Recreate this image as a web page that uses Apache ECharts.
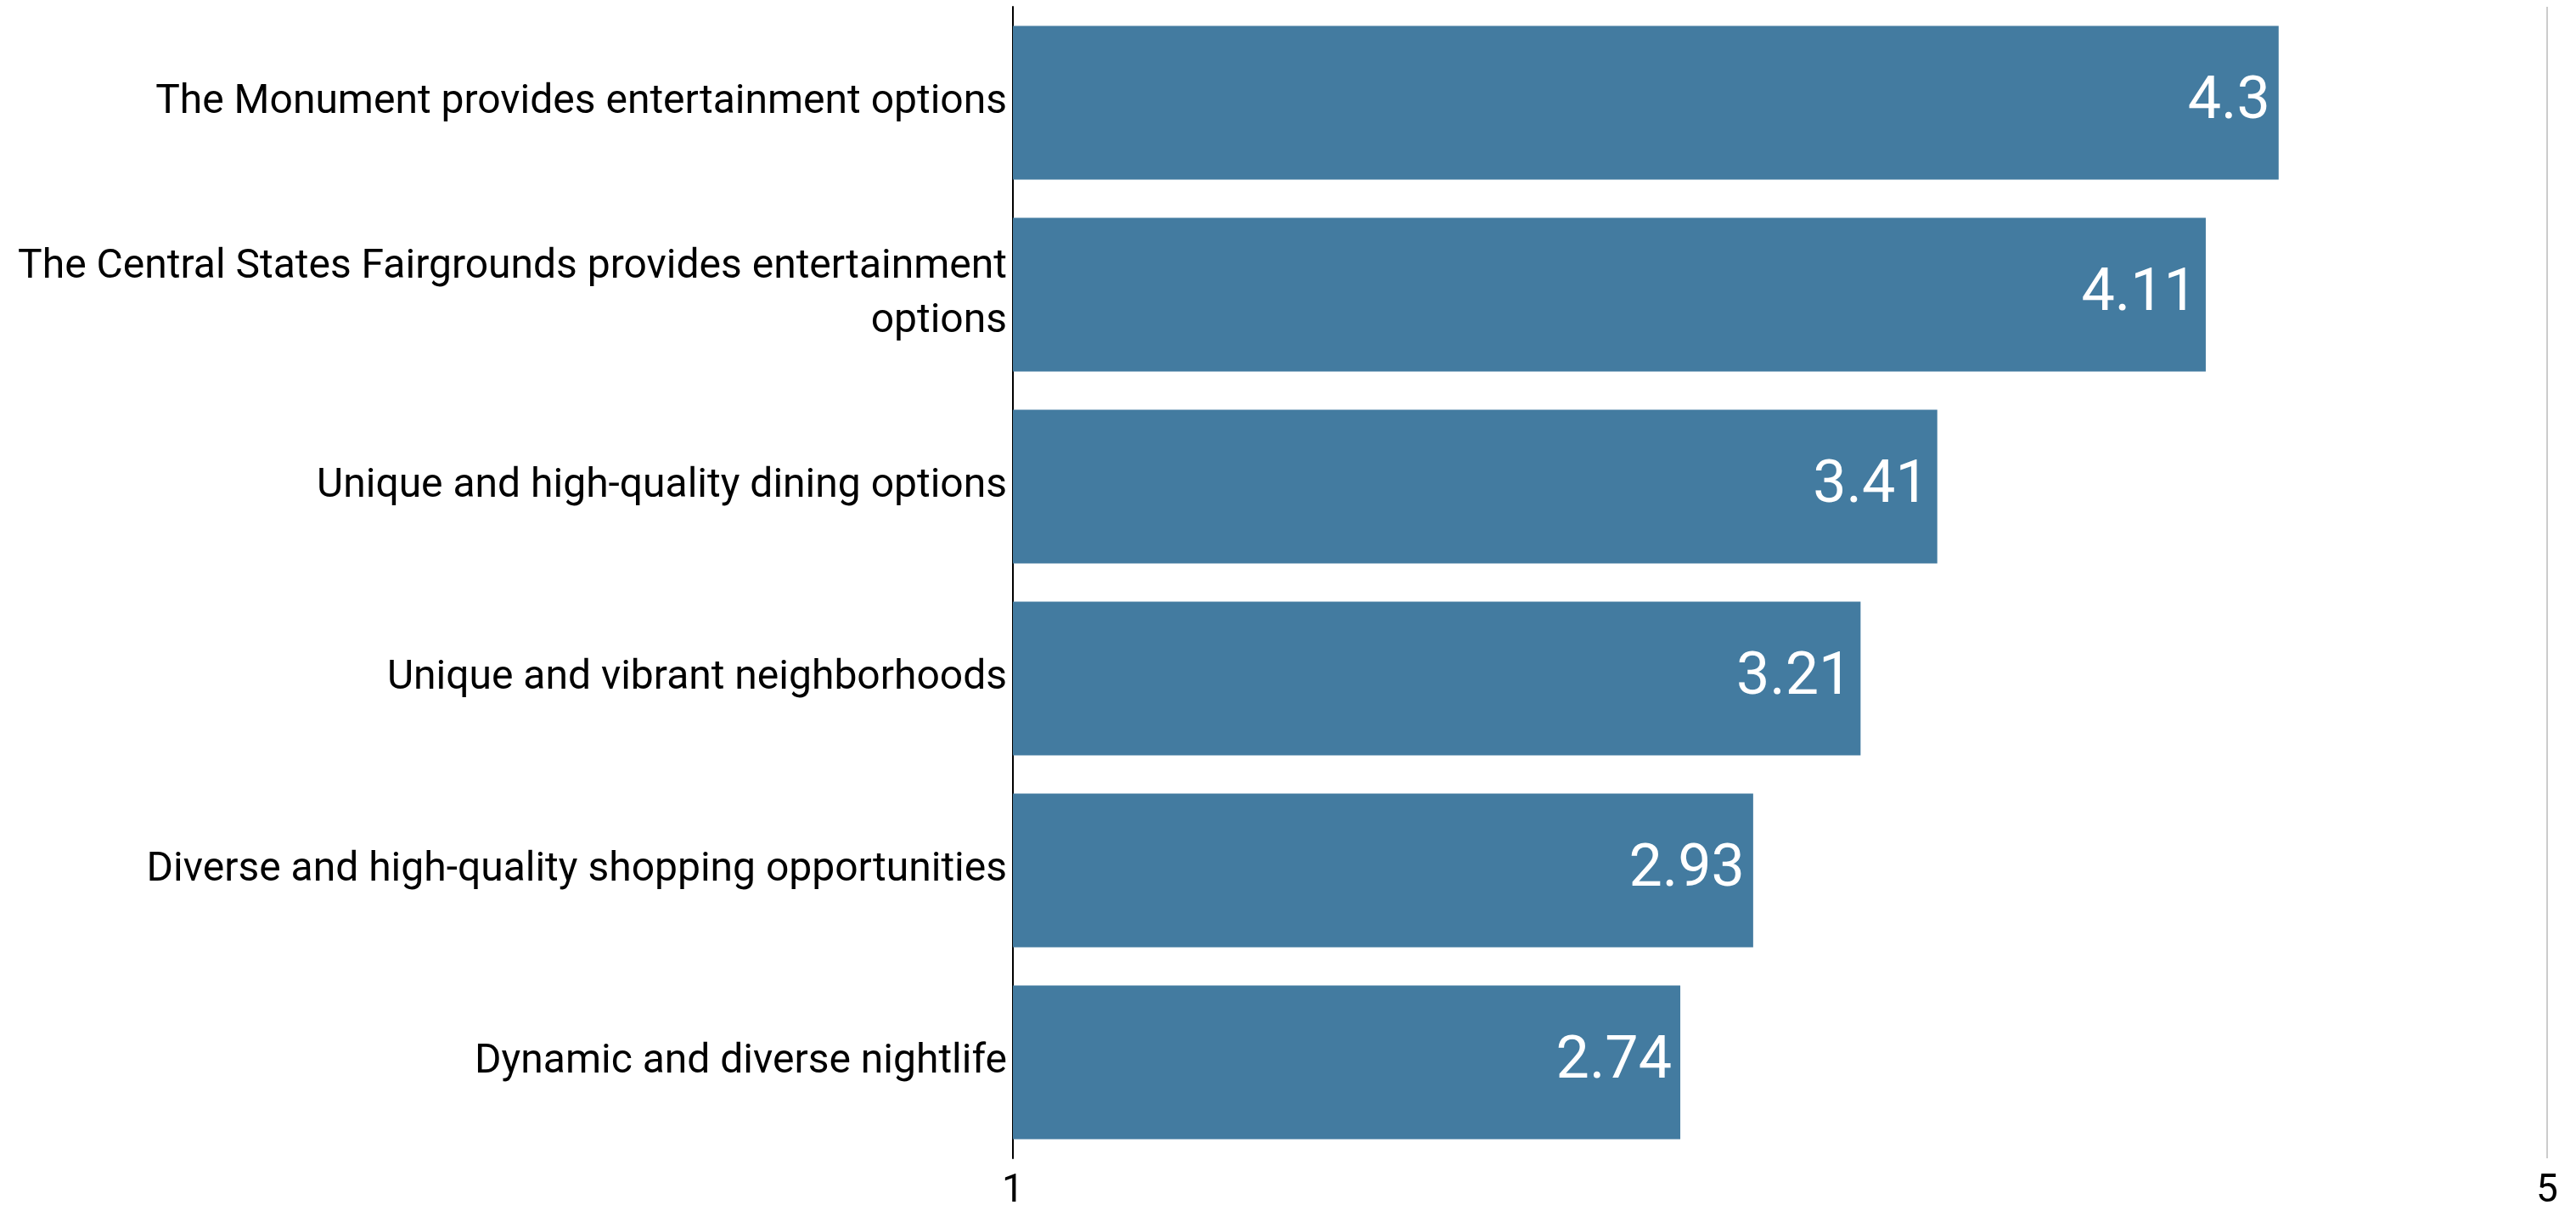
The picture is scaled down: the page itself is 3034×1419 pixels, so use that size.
<!DOCTYPE html>
<html>
<head>
<meta charset="utf-8">
<title>Entertainment and amenities ratings</title>
<script src="https://cdn.jsdelivr.net/npm/echarts@6/dist/echarts.min.js"></script>
<style>
  html, body { margin: 0; padding: 0; background: #ffffff; }
  #chart { width: 3034px; height: 1419px; }
</style>
</head>
<body>
<div id="chart"></div>
<script>
// Statements rated on a 1–5 scale, listed top to bottom
const categories = [
  'The Monument provides entertainment options',
  'The Central States Fairgrounds provides entertainment options',
  'Unique and high-quality dining options',
  'Unique and vibrant neighborhoods',
  'Diverse and high-quality shopping opportunities',
  'Dynamic and diverse nightlife'
];
const scores = [4.3, 4.11, 3.41, 3.21, 2.93, 2.74];
const scaleMin = 1;
const scaleMax = 5;

const labelFont = '48px Roboto';
const labelMaxWidth = 1180;

// Greedy word wrap so wrapped lines carry no trailing space
const measureCtx = document.createElement('canvas').getContext('2d');
function wrapLabel(text) {
  measureCtx.font = labelFont;
  const words = text.split(' ');
  const lines = [];
  let line = '';
  words.forEach(function (w) {
    const candidate = line ? line + ' ' + w : w;
    if (line && measureCtx.measureText(candidate).width > labelMaxWidth) {
      lines.push(line);
      line = w;
    } else {
      line = candidate;
    }
  });
  if (line) lines.push(line);
  return lines.join('\n');
}

const chart = echarts.init(document.getElementById('chart'));
chart.setOption({
  backgroundColor: '#ffffff',
  animation: false,
  textStyle: { fontFamily: 'Roboto' },
  grid: {
    left: 1193, right: 34, top: 8, bottom: 55,
    containLabel: false,
    outerBoundsMode: 'none'
  },
  xAxis: {
    type: 'value',
    min: scaleMin,
    max: scaleMax,
    interval: scaleMax - scaleMin,
    axisLine: { show: false },
    axisTick: { show: false },
    splitLine: { show: true, lineStyle: { color: '#cccccc', width: 2 } },
    axisLabel: { fontFamily: 'Roboto', fontSize: 46, color: '#000000', margin: 16 }
  },
  yAxis: {
    type: 'category',
    inverse: true,
    data: categories,
    axisLine: { show: true, lineStyle: { color: '#000000', width: 2 } },
    axisTick: { show: false },
    axisLabel: {
      fontFamily: 'Roboto',
      fontSize: 48,
      color: '#000000',
      margin: 7,
      lineHeight: 64,
      align: 'right',
      formatter: wrapLabel
    }
  },
  series: [{
    type: 'bar',
    data: scores,
    barCategoryGap: '20%',
    itemStyle: { color: '#437ba0' },
    label: {
      show: true,
      position: 'insideRight',
      distance: 10,
      color: '#ffffff',
      fontFamily: 'Roboto',
      fontSize: 70
    }
  }]
});
</script>
</body>
</html>
